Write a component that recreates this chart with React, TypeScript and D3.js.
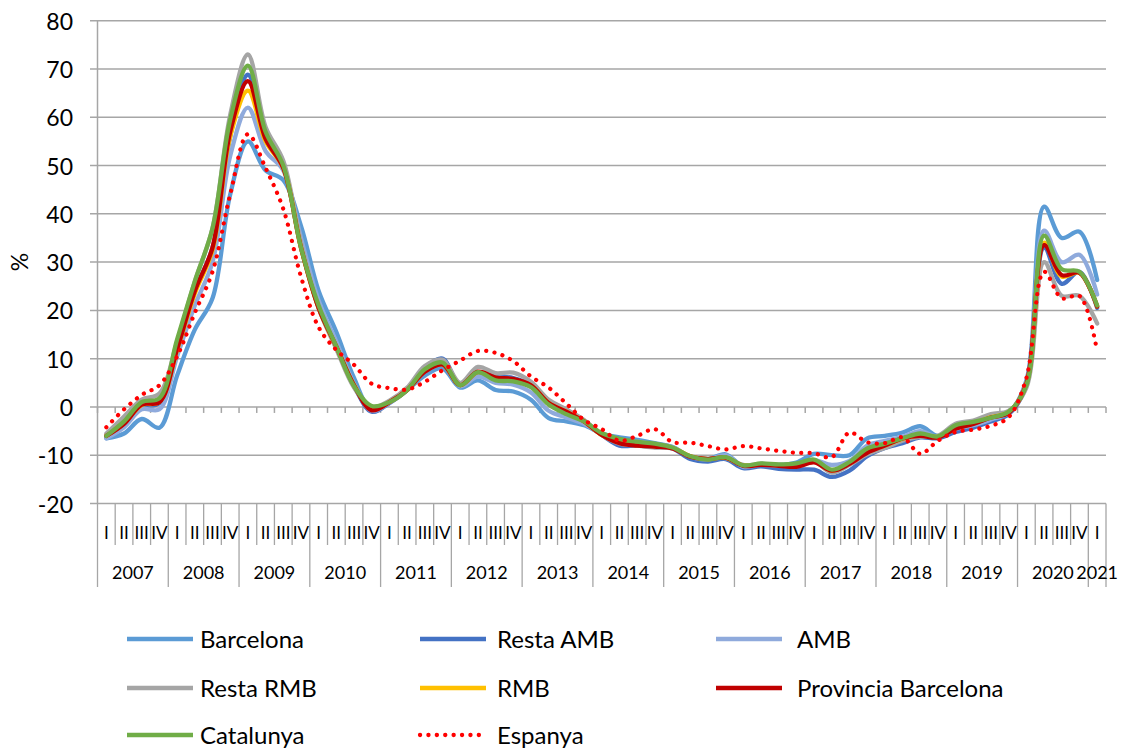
import React from 'react';
import * as d3 from 'd3';

// quarterly year-on-year change (%), 2007 I .. 2021 I
const years = ['2007', '2008', '2009', '2010', '2011', '2012', '2013', '2014', '2015', '2016', '2017', '2018', '2019', '2020', '2021'];
const quarterNames = ['I', 'II', 'III', 'IV'];
const yTicks = [-20, -10, 0, 10, 20, 30, 40, 50, 60, 70, 80];

const barcelona = [-6.5, -5.5, -2.5, -4.3, 6.5, 16, 22.5, 44, 55, 49, 47, 37.5, 24, 15.5, 6, -0.8, 1, 3.5, 6.5, 8, 4, 5.5, 3.5, 3.2, 1.5, -2.3, -3, -3.8, -5.5, -6.3, -6.8, -7.5, -8.3, -10.3, -10.8, -9.8, -12.3, -11.8, -12, -11.5, -9.7, -10, -10, -6.5, -6, -5.3, -4, -6, -4.5, -3.6, -2.5, -1.2, 5.5, 41.5, 35, 36.3, 26.3];
const restaAmb = [-6.2, -3.5, 0, 0.8, 12, 24, 33, 56, 68.8, 57, 50, 33.5, 20.5, 12.5, 4.3, -1, 0.8, 3.5, 8, 10, 4.5, 7, 6.3, 6, 4.5, 0.7, -1.2, -3.2, -5.8, -8, -8, -8.3, -8.6, -10.8, -11.3, -10.8, -12.7, -12.3, -12.8, -13, -13, -14.5, -13.2, -10.2, -8.5, -7.5, -6.3, -6.5, -5.2, -4.3, -3, -1.5, 4.5, 33, 25.5, 28, 20.5];
const amb = [-6.5, -4.2, -0.5, -0.5, 10.5, 21, 30, 52, 62, 53, 49, 35, 22, 13.5, 4.8, -0.8, 0.9, 3.5, 7.3, 9, 4.3, 6.3, 5, 4.6, 3, -0.8, -2.2, -3.5, -5.6, -7, -7.2, -7.8, -8.3, -10.3, -10.9, -10, -12.4, -12, -12.2, -12, -11, -12, -11.2, -8, -7, -6.2, -5, -6.2, -4.6, -3.8, -2.6, -1.2, 5, 36.5, 30, 31.5, 23.3];
const restaRmb = [-5.5, -2, 1.5, 2.8, 13.5, 26, 37, 60.5, 73, 58, 51, 34, 20.5, 12, 4, 0, 1.3, 4, 8.5, 9.8, 5, 8.3, 7, 7.1, 5.2, 1.5, -0.5, -2.7, -5.8, -7.6, -8, -8.4, -8.6, -10.2, -10.7, -10.6, -12, -11.8, -12, -12.3, -11.3, -13.6, -12, -9.8, -8.5, -7, -6.2, -6, -3.5, -2.8, -1.5, -0.8, 4, 30, 23, 23, 17.3];
const rmb = [-6, -3.4, 0.4, 1, 11.8, 23.5, 32.5, 56, 65.5, 55, 49.5, 33, 20.5, 12.5, 4.5, -0.4, 1, 3.5, 7.4, 8.8, 4.5, 7.2, 6, 5.7, 4.4, 0.8, -1, -3, -5.8, -7.4, -7.9, -8.1, -8.5, -10.2, -10.8, -10.5, -12.1, -11.9, -12.1, -12.2, -11.4, -13.2, -11.7, -9.3, -8, -6.6, -5.9, -6.2, -4.4, -3.4, -2.1, -1.1, 4.8, 34, 27, 27.8, 20.8];
const provincia = [-6, -3.5, 0.5, 1, 12, 24, 33, 57, 67.5, 55.5, 49.5, 33, 20.5, 12.5, 4.5, -0.7, 1, 3.5, 7.3, 8.8, 4.5, 7.3, 6.1, 5.8, 4.5, 0.8, -1, -3, -5.8, -7.5, -8, -8.2, -8.6, -10.3, -10.8, -10.5, -12.2, -12, -12.2, -12.4, -11.5, -13.2, -11.8, -9.5, -8, -6.5, -6, -6.3, -4.5, -3.5, -2.2, -1.2, 4.8, 33.5, 27.3, 27.8, 20.8];
const catalunya = [-6, -3, 1, 1.8, 14, 26, 37, 59.5, 70.7, 57, 50, 33, 21, 12.5, 4.3, 0.2, 1, 3.5, 7.8, 9.2, 4.5, 7.2, 5.5, 5.3, 4.1, 0.5, -1.5, -3, -5.4, -6.6, -7.2, -7.6, -8.4, -10.2, -10.9, -10.4, -12.1, -11.7, -11.9, -11.7, -10.9, -13, -11.4, -8.6, -7.6, -6.5, -5.5, -6.1, -3.8, -3.1, -2.2, -1, 4.5, 35.5, 28.5, 28, 21];
const espanya = [-4.2, -0.5, 2.5, 4.5, 10.5, 19.5, 28, 44, 56.5, 49.5, 41, 27, 16.5, 11.8, 8.7, 4.8, 3.9, 3.6, 5.2, 7.6, 9.6, 11.6, 11.2, 9.5, 6.3, 4, 0.7, -2.7, -4.6, -7, -6, -4.6, -7.3, -7.4, -8.1, -8.8, -8.1, -8.6, -9.1, -9.5, -9.6, -10.4, -5.3, -7.3, -7.5, -6.3, -9.7, -7, -5.2, -4.7, -3.9, -2.1, 6, 28, 22.5, 23, 11.5];

const series = [
  { name: 'Barcelona', values: barcelona, color: '#5B9BD5', dotted: false },
  { name: 'Resta AMB', values: restaAmb, color: '#4472C4', dotted: false },
  { name: 'AMB', values: amb, color: '#8FAADC', dotted: false },
  { name: 'Resta RMB', values: restaRmb, color: '#A5A5A5', dotted: false },
  { name: 'RMB', values: rmb, color: '#FFC000', dotted: false },
  { name: 'Provincia Barcelona', values: provincia, color: '#C00000', dotted: false },
  { name: 'Catalunya', values: catalunya, color: '#70AD47', dotted: false },
  { name: 'Espanya', values: espanya, color: '#FF0000', dotted: true },
];

const periods: string[] = [];
years.forEach(yr => {
  quarterNames.forEach(q => {
    if (periods.length < barcelona.length) periods.push(`${yr}-${q}`);
  });
});

const FONT = 'Lato, "Open Sans", sans-serif';
const GRID = '#A6A6A6';

export default function App() {
  const left = 97.5, right = 1106, top = 20.7, bottom = 503.5;

  const x = d3.scaleBand<string>().domain(periods).range([left, right]).padding(0);
  const y = d3.scaleLinear().domain([-20, 80]).range([bottom, top]);
  const bw = x.bandwidth();
  const step = x.step();

  const line = d3.line<number>()
    .x((_, i) => (x(periods[i]) as number) + bw / 2)
    .y(d => y(d))
    .curve(d3.curveCatmullRom);

  const boundaries = d3.range(periods.length + 1);
  const bx = (k: number) => left + k * step;

  // legend layout: line start, text start per column; row centres
  const legendCols = [127, 420, 716];
  const legendText = [200, 497, 797];
  const legendRows = [639, 688, 735];

  return (
    <svg width={1129} height={749} style={{ position: 'absolute', left: 0, top: 0, background: '#fff' }}>
      {/* gridlines and y axis */}
      {yTicks.map(t => (
        <g key={t}>
          <line x1={90} x2={right} y1={y(t)} y2={y(t)} stroke={GRID} strokeWidth={1.5} />
          <text x={73} y={y(t)} textAnchor="end" dominantBaseline="central" fontFamily={FONT} fontSize={23} fill="#000">{t}</text>
        </g>
      ))}
      <line x1={left} x2={left} y1={top} y2={bottom} stroke={GRID} strokeWidth={1.5} />
      <text transform={`translate(19,${y(30)}) rotate(-90)`} textAnchor="middle" dominantBaseline="central" fontFamily={FONT} fontSize={23} fill="#000">%</text>

      {/* tick marks on zero line */}
      {boundaries.map(k => (
        <line key={'z' + k} x1={bx(k)} x2={bx(k)} y1={y(0)} y2={y(0) + 6} stroke={GRID} strokeWidth={1.5} />
      ))}

      {/* category label boxes */}
      {boundaries.map(k => (
        <line key={'c' + k} x1={bx(k)} x2={bx(k)} y1={bottom} y2={k % 4 === 0 || k === periods.length ? 587 : 545} stroke={GRID} strokeWidth={1.3} />
      ))}
      {periods.map(p => (
        <text key={'q' + p} x={(x(p) as number) + bw / 2} y={532} textAnchor="middle" dominantBaseline="central" fontFamily={FONT} fontSize={17} fill="#000">{p.split('-')[1]}</text>
      ))}
      {years.map((yr, i) => {
        const n = Math.min(4, periods.length - i * 4);
        const cx = bx(i * 4) + (n * step) / 2;
        return (
          <text key={yr} x={cx} y={572} textAnchor="middle" dominantBaseline="central" fontFamily={FONT} fontSize={18} fill="#000">{yr}</text>
        );
      })}

      {/* series */}
      {series.map(s => (
        <path key={s.name} d={line(s.values) || ''} fill="none" stroke={s.color}
          strokeWidth={s.dotted ? 4.2 : 4.3}
          strokeLinecap="round" strokeLinejoin="round"
          strokeDasharray={s.dotted ? '0.1 8.3' : undefined} />
      ))}

      {/* legend */}
      {series.map((s, i) => {
        const lx = legendCols[i % 3];
        const ly = legendRows[Math.floor(i / 3)];
        return (
          <g key={'l' + s.name}>
            <line x1={lx} x2={lx + 66} y1={ly} y2={ly} stroke={s.color} strokeWidth={4.3}
              strokeLinecap={s.dotted ? 'round' : 'butt'}
              strokeDasharray={s.dotted ? '0.1 8.3' : undefined} />
            <text x={legendText[i % 3]} y={ly - 1} dominantBaseline="central" fontFamily={FONT} fontSize={24} fill="#000">{s.name}</text>
          </g>
        );
      })}
    </svg>
  );
}
